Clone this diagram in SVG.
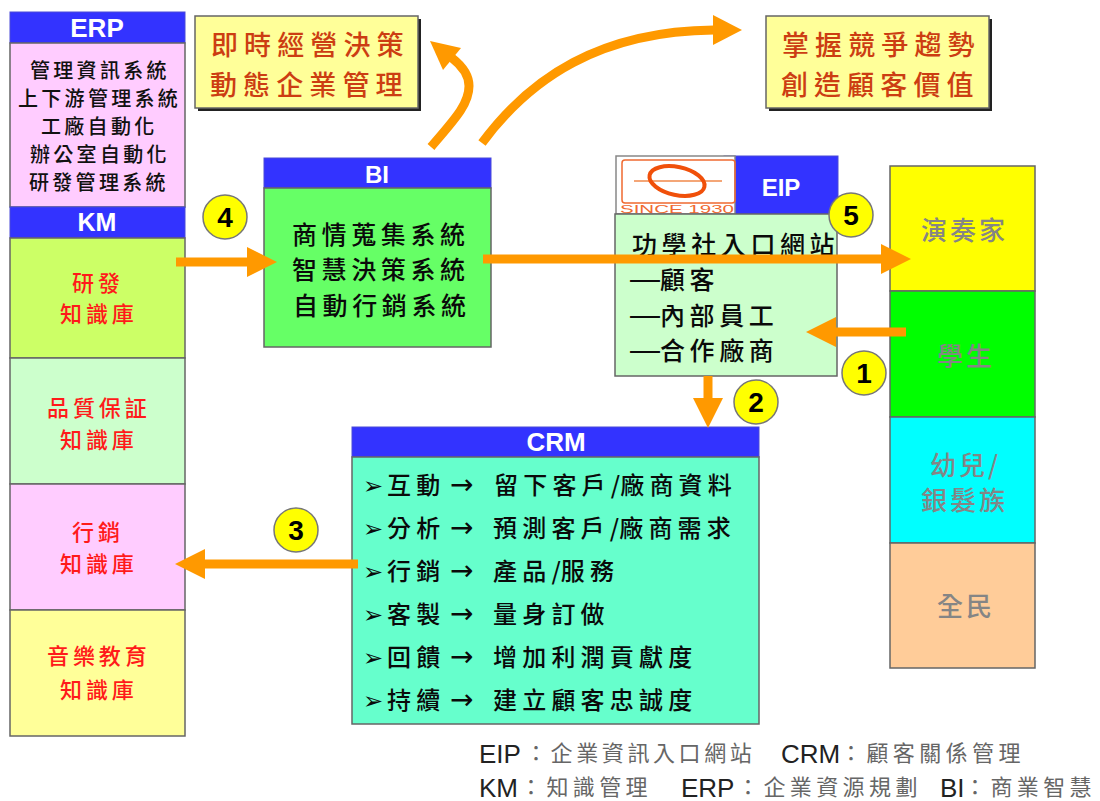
<svg xmlns="http://www.w3.org/2000/svg" width="1100" height="801" viewBox="0 0 1100 801">
<style>
text{font-family:"Noto Sans CJK TC","Noto Sans CJK SC",sans-serif}
.box{stroke:#666;stroke-width:1.5}
.hd{fill:#3333ff;stroke:#4a4ad8;stroke-width:1}
.lat{font-family:"Liberation Sans",Arial,sans-serif;font-weight:bold;fill:#fff;text-anchor:middle}
.erp{font-size:20px;letter-spacing:3.3px;fill:#111;font-weight:500}
.km{font-size:22px;letter-spacing:3.9px;fill:#ff1a1a;font-weight:500}
.goal{font-size:27px;letter-spacing:6.1px;fill:#cc3d12;font-weight:500}
.sys{font-size:25px;letter-spacing:4.6px;fill:#0a0a0a;font-weight:500}
.aud{font-size:26px;letter-spacing:3px;fill:#858585;font-weight:500}
.crm{font-size:24px;letter-spacing:5.2px;fill:#0a0a0a;font-weight:500}
.bul{font-family:"DejaVu Sans",sans-serif;font-size:24px;letter-spacing:0}
.arw{font-family:"DejaVu Sans",sans-serif;font-size:28px;letter-spacing:0;font-weight:normal}
.sl{letter-spacing:0}
.dash{font-family:"Liberation Sans",Arial,sans-serif;font-size:30px;letter-spacing:0;font-weight:normal}
.num{font-family:"Liberation Sans",Arial,sans-serif;font-weight:bold;font-size:28px;text-anchor:middle;fill:#000}
.badge{fill:#ffff00;stroke:#777;stroke-width:1.5}
.leg{font-family:"Liberation Sans",Arial,sans-serif;font-size:26px;fill:#222}
.legz{font-size:22px;letter-spacing:4.4px;fill:#666}
.ln{fill:none;stroke:#ff9900;stroke-width:9}
.hdr{fill:#ff9900}
</style>
<defs>
<marker id="ah" viewBox="0 0 30 30" refX="0" refY="15" markerWidth="30" markerHeight="30" markerUnits="userSpaceOnUse" orient="auto"><path d="M0 0L30 15L0 30Z" class="hdr"/></marker>
</defs>

<g id="node-erp">
<rect class="hd" x="10" y="12" width="175" height="31"/>
<rect class="box" x="10" y="43" width="175" height="164" fill="#ffccff"/>
<text class="lat" x="97" y="37" font-size="26">ERP</text>
<text class="erp" x="30" y="78">管理資訊系統</text>
<text class="erp" x="18" y="106">上下游管理系統</text>
<text class="erp" x="41" y="134">工廠自動化</text>
<text class="erp" x="30" y="162">辦公室自動化</text>
<text class="erp" x="29" y="190">研發管理系統</text>
</g>
<g id="node-km">
<rect class="hd" x="10" y="207" width="175" height="31"/>
<text class="lat" x="97" y="231" font-size="25">KM</text>
<rect class="box" x="10" y="238" width="175" height="120" fill="#ccff66"/>
<rect class="box" x="10" y="358" width="175" height="126" fill="#ccffcc"/>
<rect class="box" x="10" y="484" width="175" height="126" fill="#ffccff"/>
<rect class="box" x="10" y="610" width="175" height="126" fill="#ffff99"/>
<text class="km" x="72" y="291">研發</text>
<text class="km" x="60" y="322">知識庫</text>
<text class="km" x="47" y="416">品質保証</text>
<text class="km" x="60" y="448">知識庫</text>
<text class="km" x="72" y="540">行銷</text>
<text class="km" x="60" y="572">知識庫</text>
<text class="km" x="47" y="664">音樂教育</text>
<text class="km" x="60" y="698">知識庫</text>
</g>
<g id="node-goal1">
<rect x="198" y="19" width="223" height="92" fill="#222"/>
<rect class="box" x="195" y="16" width="223" height="92" fill="#ffff99"/>
<text class="goal" x="211" y="55">即時經營決策</text>
<text class="goal" x="210" y="95">動態企業管理</text>
</g>
<g id="node-goal2">
<rect x="769" y="19" width="223" height="92" fill="#222"/>
<rect class="box" x="766" y="16" width="223" height="92" fill="#ffff99"/>
<text class="goal" x="782" y="55">掌握競爭趨勢</text>
<text class="goal" x="781" y="95">創造顧客價值</text>
</g>
<g id="node-bi">
<rect class="hd" x="264" y="158" width="227" height="30"/>
<rect class="box" x="264" y="188" width="227" height="159" fill="#66ff66"/>
<text class="lat" x="377" y="183" font-size="24">BI</text>
<text class="sys" x="292" y="244">商情蒐集系統</text>
<text class="sys" x="292" y="279">智慧決策系統</text>
<text class="sys" x="293" y="315">自動行銷系統</text>
</g>
<g id="node-eip">
<rect class="hd" x="724" y="156" width="114" height="59"/>
<rect x="616" y="156" width="119" height="58" fill="#fff" stroke="#888" stroke-width="1.5"/>
<rect x="622" y="160" width="113" height="43" rx="3" fill="none" stroke="#f06a30" stroke-width="1.5"/>
<path d="M634 181H722" stroke="#f0884a" stroke-width="1.5"/>
<ellipse cx="677" cy="181" rx="28" ry="14" transform="rotate(12 677 181)" fill="none" stroke="#f0500a" stroke-width="4"/>
<text x="620" y="213" font-size="10" fill="#f06a30" textLength="114" lengthAdjust="spacingAndGlyphs" style="font-family:'Liberation Sans',sans-serif;font-size:11px">SINCE 1930</text>
<rect class="box" x="615" y="214" width="222" height="162" fill="#ccffcc"/>
<text class="lat" x="781" y="196" font-size="24">EIP</text>
<text class="sys" x="632" y="254">功學社入口網站</text>
<text class="sys" x="630" y="289"><tspan class="dash">—</tspan>顧客</text>
<text class="sys" x="630" y="325"><tspan class="dash">—</tspan>內部員工</text>
<text class="sys" x="630" y="360"><tspan class="dash">—</tspan>合作廠商</text>
</g>
<g id="node-audience">
<rect class="box" x="890" y="166" width="145" height="125" fill="#ffff00"/>
<rect class="box" x="890" y="291" width="145" height="126" fill="#00ff00"/>
<rect class="box" x="890" y="417" width="145" height="126" fill="#00ffff"/>
<rect class="box" x="890" y="543" width="145" height="125" fill="#ffcc99"/>
<text class="aud" x="921" y="240">演奏家</text>
<text class="aud" x="937" y="366">學生</text>
<text class="aud" x="930" y="475">幼兒/</text>
<text class="aud" x="921" y="510">銀髮族</text>
<text class="aud" x="937" y="616">全民</text>
</g>
<g id="node-crm">
<rect class="hd" x="352" y="427" width="407" height="30"/>
<rect class="box" x="352" y="457" width="407" height="267" fill="#66ffcc"/>
<text class="lat" x="556" y="451" font-size="26">CRM</text>
<text class="crm" y="494"><tspan class="bul" x="363">➢</tspan><tspan x="387">互動</tspan><tspan class="arw" x="450">→</tspan><tspan x="494">留下客戶<tspan class="sl">/</tspan>廠商資料</tspan></text>
<text class="crm" y="537"><tspan class="bul" x="363">➢</tspan><tspan x="387">分析</tspan><tspan class="arw" x="450">→</tspan><tspan x="493">預測客戶<tspan class="sl">/</tspan>廠商需求</tspan></text>
<text class="crm" y="580"><tspan class="bul" x="363">➢</tspan><tspan x="387">行銷</tspan><tspan class="arw" x="450">→</tspan><tspan x="493">產品<tspan class="sl">/</tspan>服務</tspan></text>
<text class="crm" y="623"><tspan class="bul" x="363">➢</tspan><tspan x="387">客製</tspan><tspan class="arw" x="450">→</tspan><tspan x="493">量身訂做</tspan></text>
<text class="crm" y="666"><tspan class="bul" x="363">➢</tspan><tspan x="387">回饋</tspan><tspan class="arw" x="450">→</tspan><tspan x="493">增加利潤貢獻度</tspan></text>
<text class="crm" y="709"><tspan class="bul" x="363">➢</tspan><tspan x="387">持續</tspan><tspan class="arw" x="450">→</tspan><tspan x="493">建立顧客忠誠度</tspan></text>
</g>
<g id="connectors">
<path class="ln" d="M176 262H247" marker-end="url(#ah)"/>
<path class="ln" d="M483 259H881" marker-end="url(#ah)"/>
<path class="ln" d="M906 332H836" marker-end="url(#ah)"/>
<path class="ln" d="M708 376V398" marker-end="url(#ah)"/>
<path class="ln" d="M358 564H205" marker-end="url(#ah)"/>
<path class="ln" d="M431 147C453 121 469 105 469 86C469 74 461 65 452 58"/>
<path class="hdr" d="M430 41L461 48L443 70Z"/>
<path class="ln" d="M482 143C530 78 600 31 714 30"/>
<path class="hdr" d="M742 30L713 15V45Z"/>
</g>
<g id="badge-4"><circle class="badge" cx="225" cy="217" r="22"/><text class="num" x="225" y="227">4</text></g>
<g id="badge-5"><circle class="badge" cx="851" cy="215" r="22"/><text class="num" x="851" y="225">5</text></g>
<g id="badge-1"><circle class="badge" cx="864" cy="373" r="22"/><text class="num" x="864" y="383">1</text></g>
<g id="badge-2"><circle class="badge" cx="756" cy="402" r="22"/><text class="num" x="756" y="412">2</text></g>
<g id="badge-3"><circle class="badge" cx="296" cy="530" r="22"/><text class="num" x="296" y="540">3</text></g>
<g id="legend">
<text class="leg" x="479" y="763">EIP</text><text class="legz" x="525" y="761" style="letter-spacing:3.6px">：企業資訊入口網站</text>
<text class="leg" x="781" y="763">CRM</text><text class="legz" x="840" y="761">：顧客關係管理</text>
<text class="leg" x="479" y="797">KM</text><text class="legz" x="520" y="795">：知識管理</text>
<text class="leg" x="681" y="797">ERP</text><text class="legz" x="737" y="795">：企業資源規劃</text>
<text class="leg" x="940" y="797">BI</text><text class="legz" x="964" y="795">：商業智慧</text>
</g>
</svg>
